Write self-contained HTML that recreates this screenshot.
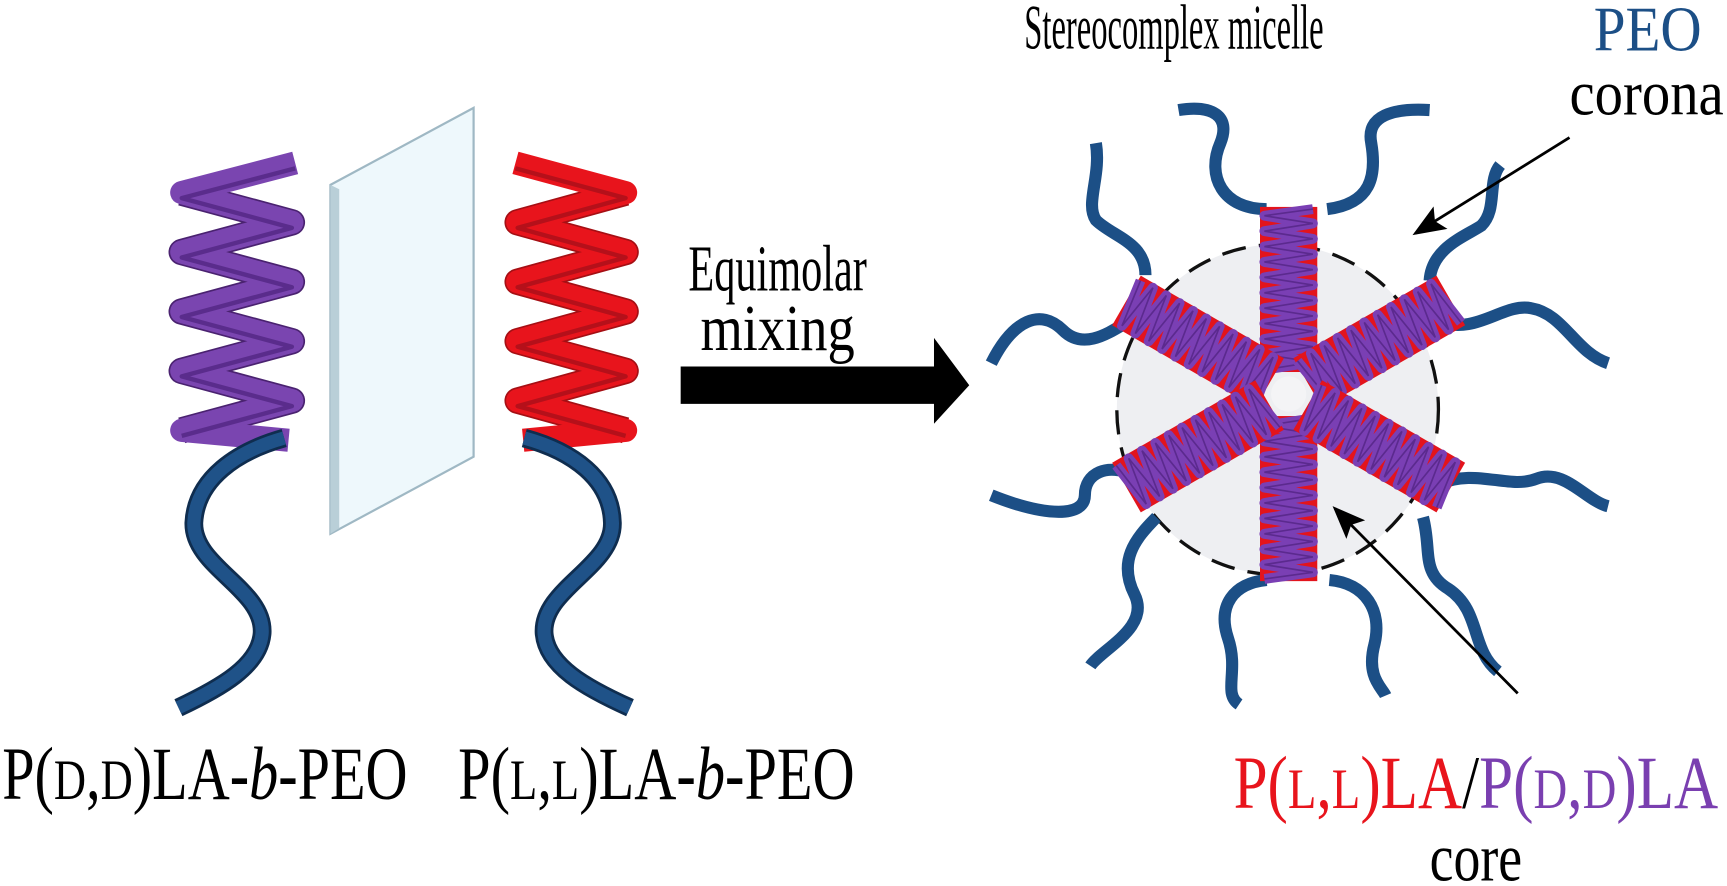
<!DOCTYPE html>
<html><head><meta charset="utf-8"><style>
html,body{margin:0;padding:0;background:#fff;}
svg{display:block;}
text{font-family:"Liberation Serif",serif;}
</style></head><body>
<svg width="1727" height="886" viewBox="0 0 1568 805" preserveAspectRatio="none" xmlns="http://www.w3.org/2000/svg">
<defs>
<marker id="ah2" viewBox="0 0 10 8" markerWidth="30" markerHeight="24" refX="9" refY="4" orient="auto" markerUnits="userSpaceOnUse">
<path d="M0,0 L10,4 L0,8 L2,4 Z" fill="#000"/>
</marker>
<g id="arm">
<rect x="20" y="-26" width="150" height="52" fill="#e3141c"/>
<polyline fill="none" stroke="#7a3fb4" stroke-width="9" stroke-linejoin="round" points="22,-22 29,22 36,-22 43,22 50,-22 57,22 64,-22 71,22 78,-22 85,22 92,-22 99,22 106,-22 113,22 120,-22 127,22 134,-22 141,22 148,-22 155,22 162,-22 168,22"/>
<polyline fill="none" stroke="#5b2a8e" stroke-width="1.5" points="22,-22 29,22 36,-22 43,22 50,-22 57,22 64,-22 71,22 78,-22 85,22 92,-22 99,22 106,-22 113,22 120,-22 127,22 134,-22 141,22 148,-22 155,22 162,-22 168,22"/>
</g>
</defs>

<!-- Left helix (purple) -->
<g stroke-linecap="butt" stroke-linejoin="round" fill="none">
<polyline stroke="#4a2270" stroke-width="24" points="165,175 265,202 165,229 265,256 165,283 265,310 165,337 265,364 165,391"/>
<polyline stroke="#7a45b0" stroke-width="21" points="268,148 165,175 265,202 165,229 265,256 165,283 265,310 165,337 265,364 165,391 262,400"/>
<polyline stroke="#5a2c8c" stroke-width="4" points="268,153 165,180 265,207 165,234 265,261 165,288 265,315 165,342 265,369 165,396"/>
</g>
<!-- Right helix (red) -->
<g stroke-linecap="butt" stroke-linejoin="round" fill="none">
<polyline stroke="#a50f14" stroke-width="24" points="568,175 470,202 568,229 470,256 568,283 470,310 568,337 470,364 568,391"/>
<polyline stroke="#e8141c" stroke-width="21" points="468,148 568,175 470,202 568,229 470,256 568,283 470,310 568,337 470,364 568,391 475,400"/>
<polyline stroke="#b5101a" stroke-width="4" points="468,153 568,180 470,207 568,234 470,261 568,288 470,315 568,342 470,369 568,396"/>
</g>
<!-- tails -->
<g fill="none" stroke-linecap="butt">
<path d="M258,398 C215,410 178,435 176,475 C175,515 240,535 238,575 C236,605 200,625 162,643" stroke="#0f2d4f" stroke-width="17"/>
<path d="M258,398 C215,410 178,435 176,475 C175,515 240,535 238,575 C236,605 200,625 162,643" stroke="#1f5288" stroke-width="12"/>
<path d="M476,398 C520,410 555,435 556,475 C557,515 492,535 494,575 C496,605 532,625 572,643" stroke="#0f2d4f" stroke-width="17"/>
<path d="M476,398 C520,410 555,435 556,475 C557,515 492,535 494,575 C496,605 532,625 572,643" stroke="#1f5288" stroke-width="12"/>
</g>
<!-- glass plate -->
<polygon points="300,168 430,98 430,415 300,485" fill="#eef8fc" stroke="#9fb8c4" stroke-width="2"/>
<polygon points="300,168 308,172 308,480 300,485" fill="#b9cfd8"/>

<!-- big arrow -->
<polygon points="618,333 848,333 848,307 880,350 848,385 848,367 618,367" fill="#000"/>
<text x="706" y="264" font-size="60" text-anchor="middle" textLength="162" lengthAdjust="spacingAndGlyphs">Equimolar</text>
<text x="706" y="318" font-size="60" text-anchor="middle" textLength="140" lengthAdjust="spacingAndGlyphs">mixing</text>

<!-- micelle -->
<ellipse cx="1160" cy="372" rx="146" ry="150" fill="#eeeff2" stroke="#111" stroke-width="3" stroke-dasharray="22,12"/>
<g fill="none" stroke="#1c4f86" stroke-width="11" stroke-linecap="butt">
<path d="M1150,190 C1110,190 1095,160 1108,130 C1118,105 1100,95 1070,100"/>
<path d="M1205,190 C1245,185 1250,160 1245,130 C1240,105 1265,98 1298,100"/>
<path d="M1040,250 C1040,220 1010,215 995,200 C985,185 1000,160 995,130"/>
<path d="M1028,290 C1010,300 985,320 965,300 C945,280 920,290 900,330"/>
<path d="M1030,432 C1005,420 985,430 985,450 C985,470 950,470 900,450"/>
<path d="M1050,470 C1030,490 1015,510 1030,540 C1045,570 1000,590 990,605"/>
<path d="M1150,527 C1120,530 1105,550 1115,580 C1125,610 1110,630 1125,640"/>
<path d="M1207,527 C1240,530 1255,555 1248,585 C1240,615 1255,625 1258,632"/>
<path d="M1298,255 C1300,225 1330,215 1345,205 C1360,190 1350,165 1362,150"/>
<path d="M1306,292 C1340,305 1365,275 1390,280 C1420,285 1430,320 1460,330"/>
<path d="M1306,440 C1340,425 1370,445 1395,435 C1420,425 1440,455 1460,460"/>
<path d="M1292,470 C1300,500 1290,520 1315,535 C1345,555 1335,590 1360,610"/>
</g>
<g transform="translate(1170,358)">
<use href="#arm" transform="rotate(-90)"/>
<use href="#arm" transform="rotate(90)"/>
<use href="#arm" transform="rotate(-150)"/>
<use href="#arm" transform="rotate(-30)"/>
<use href="#arm" transform="rotate(150)"/>
<use href="#arm" transform="rotate(30)"/>
<circle r="16" fill="#f4f4f6"/>
</g>

<!-- label arrows -->
<line x1="1425" y1="125" x2="1285" y2="212" stroke="#000" stroke-width="2.5" marker-end="url(#ah2)"/>
<line x1="1378" y1="630" x2="1212" y2="462" stroke="#000" stroke-width="2.5" marker-end="url(#ah2)"/>

<!-- texts -->
<text x="0" y="0" font-size="58" transform="translate(930,44) scale(0.51,1)">Stereocomplex micelle</text>
<text x="1447" y="46" font-size="58" fill="#1c4f86" textLength="98" lengthAdjust="spacingAndGlyphs">PEO</text>
<text x="1425" y="104" font-size="58" textLength="140" lengthAdjust="spacingAndGlyphs">corona</text>
<text x="2" y="726" font-size="68" textLength="368" lengthAdjust="spacingAndGlyphs">P(<tspan font-size="52">D</tspan>,<tspan font-size="52">D</tspan>)LA-<tspan font-style="italic">b</tspan>-PEO</text>
<text x="416" y="726" font-size="68" textLength="360" lengthAdjust="spacingAndGlyphs">P(<tspan font-size="52">L</tspan>,<tspan font-size="52">L</tspan>)LA-<tspan font-style="italic">b</tspan>-PEO</text>
<text x="1120" y="734" font-size="68" textLength="440" lengthAdjust="spacingAndGlyphs"><tspan fill="#e8141c">P(<tspan font-size="52">L</tspan>,<tspan font-size="52">L</tspan>)LA</tspan>/<tspan fill="#7a3fb0">P(<tspan font-size="52">D</tspan>,<tspan font-size="52">D</tspan>)LA</tspan></text>
<text x="1340" y="800" font-size="62" text-anchor="middle" textLength="84" lengthAdjust="spacingAndGlyphs">core</text>
</svg>
</body></html>
